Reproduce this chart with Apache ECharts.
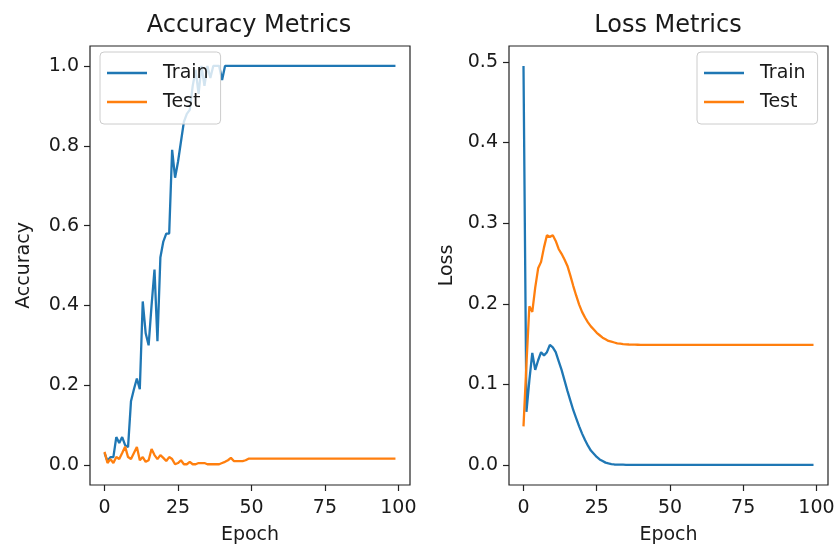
<!DOCTYPE html>
<html>
<head>
<meta charset="utf-8">
<script src="https://cdn.jsdelivr.net/npm/echarts@6/dist/echarts.min.js"></script>
<style>
html,body{margin:0;padding:0;background:#fff;}
#chart{width:835px;height:547px;}
</style>
</head>
<body>
<div id="chart"></div>
<script>
// ---- data ----
const accTrain = [
  0.03, 0.01, 0.02, 0.02, 0.07, 0.055, 0.07, 0.05, 0.045, 0.16,
  0.19, 0.217, 0.19, 0.41, 0.33, 0.30, 0.40, 0.49, 0.31, 0.52,
  0.56, 0.58, 0.58, 0.79, 0.72, 0.76, 0.81, 0.86, 0.88, 0.89,
  0.95, 0.99, 0.93, 1.0, 0.95, 1.0, 0.97, 1.0, 1.0, 1.0,
  0.965, 1.0, 1.0, 1.0, 1.0, 1.0, 1.0, 1.0, 1.0, 1.0,
  1.0, 1.0, 1.0, 1.0, 1.0, 1.0, 1.0, 1.0, 1.0, 1.0,
  1.0, 1.0, 1.0, 1.0, 1.0, 1.0, 1.0, 1.0, 1.0, 1.0,
  1.0, 1.0, 1.0, 1.0, 1.0, 1.0, 1.0, 1.0, 1.0, 1.0,
  1.0, 1.0, 1.0, 1.0, 1.0, 1.0, 1.0, 1.0, 1.0, 1.0,
  1.0, 1.0, 1.0, 1.0, 1.0, 1.0, 1.0, 1.0, 1.0, 1.0
];
const accTest = [
  0.033, 0.005, 0.015, 0.005, 0.02, 0.015, 0.03, 0.046, 0.02, 0.015,
  0.03, 0.045, 0.012, 0.02, 0.008, 0.012, 0.04, 0.025, 0.015, 0.025,
  0.018, 0.01, 0.02, 0.015, 0.002, 0.005, 0.012, 0.002, 0.002, 0.008,
  0.002, 0.002, 0.005, 0.005, 0.005, 0.002, 0.002, 0.002, 0.002, 0.002,
  0.005, 0.008, 0.012, 0.018, 0.01, 0.01, 0.01, 0.01, 0.012, 0.016,
  0.016, 0.016, 0.016, 0.016, 0.016, 0.016, 0.016, 0.016, 0.016, 0.016,
  0.016, 0.016, 0.016, 0.016, 0.016, 0.016, 0.016, 0.016, 0.016, 0.016,
  0.016, 0.016, 0.016, 0.016, 0.016, 0.016, 0.016, 0.016, 0.016, 0.016,
  0.016, 0.016, 0.016, 0.016, 0.016, 0.016, 0.016, 0.016, 0.016, 0.016,
  0.016, 0.016, 0.016, 0.016, 0.016, 0.016, 0.016, 0.016, 0.016, 0.016
];
const lossTrain = [
  0.495, 0.066, 0.105, 0.139, 0.118, 0.13, 0.14, 0.136, 0.14, 0.149,
  0.146, 0.14, 0.129, 0.118, 0.105, 0.092, 0.08, 0.068, 0.058, 0.048,
  0.039, 0.031, 0.024, 0.018, 0.014, 0.010, 0.007, 0.005, 0.003, 0.002,
  0.0012, 0.0007, 0.0005, 0.0004, 0.0004, 0.0003, 0.0003, 0.0003, 0.0003, 0.0003,
  0.0003, 0.0003, 0.0003, 0.0003, 0.0003, 0.0003, 0.0003, 0.0003, 0.0003, 0.0003,
  0.0003, 0.0003, 0.0003, 0.0003, 0.0003, 0.0003, 0.0003, 0.0003, 0.0003, 0.0003,
  0.0003, 0.0003, 0.0003, 0.0003, 0.0003, 0.0003, 0.0003, 0.0003, 0.0003, 0.0003,
  0.0003, 0.0003, 0.0003, 0.0003, 0.0003, 0.0003, 0.0003, 0.0003, 0.0003, 0.0003,
  0.0003, 0.0003, 0.0003, 0.0003, 0.0003, 0.0003, 0.0003, 0.0003, 0.0003, 0.0003,
  0.0003, 0.0003, 0.0003, 0.0003, 0.0003, 0.0003, 0.0003, 0.0003, 0.0003, 0.0003
];
const lossTest = [
  0.048, 0.125, 0.197, 0.19, 0.22, 0.244, 0.252, 0.27, 0.285, 0.283,
  0.285, 0.278, 0.268, 0.262, 0.255, 0.247, 0.235, 0.222, 0.21, 0.199,
  0.19, 0.183, 0.177, 0.172, 0.168, 0.164, 0.161, 0.158, 0.156, 0.154,
  0.153, 0.152, 0.151, 0.1505, 0.150, 0.1497, 0.1495, 0.1494, 0.1493, 0.1492,
  0.1491, 0.149, 0.149, 0.149, 0.149, 0.149, 0.149, 0.149, 0.149, 0.149,
  0.149, 0.149, 0.149, 0.149, 0.149, 0.149, 0.149, 0.149, 0.149, 0.149,
  0.149, 0.149, 0.149, 0.149, 0.149, 0.149, 0.149, 0.149, 0.149, 0.149,
  0.149, 0.149, 0.149, 0.149, 0.149, 0.149, 0.149, 0.149, 0.149, 0.149,
  0.149, 0.149, 0.149, 0.149, 0.149, 0.149, 0.149, 0.149, 0.149, 0.149,
  0.149, 0.149, 0.149, 0.149, 0.149, 0.149, 0.149, 0.149, 0.149, 0.149
];
const xTicks = [0, 25, 50, 75, 100];
const accTicks = [0, 0.2, 0.4, 0.6, 0.8, 1.0];
const lossTicks = [0, 0.1, 0.2, 0.3, 0.4, 0.5];
const titles = ['Accuracy Metrics', 'Loss Metrics'];
const yNames = ['Accuracy', 'Loss'];
const xName = 'Epoch';
const seriesNames = ['Train', 'Test'];

// ---- chart ----
const BLUE = '#1f77b4', ORANGE = '#ff7f0e';
const FONT = 'DejaVu Sans';
const TXT = '#1a1a1a';
const FS = 19;
const pairs = arr => arr.map((v, i) => [i, v]);

function xAxisFor(gi) {
  return {
    type: 'value', gridIndex: gi, min: -4.95, max: 103.95,
    name: xName, nameLocation: 'middle', nameGap: 41,
    nameTextStyle: {fontFamily: FONT, fontSize: FS, color: TXT},
    axisLine: {show: false, onZero: false},
    axisTick: {show: true, inside: false, length: 6, lineStyle: {color: '#222', width: 1.2}, customValues: xTicks},
    axisLabel: {fontFamily: FONT, fontSize: FS, color: TXT, margin: 14, customValues: xTicks,
                formatter: v => String(Math.round(v))},
    splitLine: {show: false}
  };
}
function yAxisFor(gi, min, max, ticks, name, gap) {
  return {
    type: 'value', gridIndex: gi, min: min, max: max,
    name: name, nameLocation: 'middle', nameGap: gap, nameRotate: 90,
    nameTextStyle: {fontFamily: FONT, fontSize: FS, color: TXT},
    axisLine: {show: false, onZero: false},
    axisTick: {show: true, inside: false, length: 6, lineStyle: {color: '#222', width: 1.2}, customValues: ticks},
    axisLabel: {fontFamily: FONT, fontSize: FS, color: TXT, margin: 11, customValues: ticks,
                formatter: v => v.toFixed(1)},
    splitLine: {show: false}
  };
}
function legendFor(pos) {
  return Object.assign({
    orient: 'vertical', top: 52, z: 10,
    data: seriesNames,
    icon: 'rect',
    itemWidth: 40, itemHeight: 2.6, itemGap: 7,
    padding: [10, 12, 11, 7],
    backgroundColor: 'rgba(255,255,255,0.8)',
    borderColor: '#cccccc', borderWidth: 1, borderRadius: 4,
    textStyle: {fontFamily: FONT, fontSize: FS, color: TXT, padding: [0, 0, 0, 11], lineHeight: 22},
    selectedMode: false
  }, pos);
}
function lineSeries(name, data, color, gi) {
  return {
    type: 'line', name: name, data: pairs(data),
    xAxisIndex: gi, yAxisIndex: gi,
    symbol: 'none', showSymbol: false,
    lineStyle: {color: color, width: 2.3},
    itemStyle: {color: color},
    animation: false
  };
}
function gridFor(left, width) {
  return {left: left, top: 46, width: width, height: 439, show: true,
          borderColor: '#222', borderWidth: 1.2, backgroundColor: 'transparent',
          containLabel: false, outerBoundsMode: 'none'};
}

const chart = echarts.init(document.getElementById('chart'), null, {renderer: 'canvas'});
chart.setOption({
  backgroundColor: '#ffffff',
  animation: false,
  title: [
    {text: titles[0], left: 244, top: 9, textAlign: 'center',
     textStyle: {fontFamily: FONT, fontSize: 24, fontWeight: 'normal', color: TXT}},
    {text: titles[1], left: 663, top: 9, textAlign: 'center',
     textStyle: {fontFamily: FONT, fontSize: 24, fontWeight: 'normal', color: TXT}}
  ],
  grid: [gridFor(90, 320), gridFor(509, 319)],
  xAxis: [xAxisFor(0), xAxisFor(1)],
  yAxis: [
    yAxisFor(0, -0.05, 1.05, accTicks, yNames[0], 56),
    yAxisFor(1, -0.02475, 0.51975, lossTicks, yNames[1], 52)
  ],
  legend: [
    legendFor({left: 100}),
    legendFor({left: 697})
  ],
  series: [
    lineSeries(seriesNames[0], accTrain, BLUE, 0),
    lineSeries(seriesNames[1], accTest, ORANGE, 0),
    lineSeries(seriesNames[0], lossTrain, BLUE, 1),
    lineSeries(seriesNames[1], lossTest, ORANGE, 1)
  ]
});
</script>
</body>
</html>
